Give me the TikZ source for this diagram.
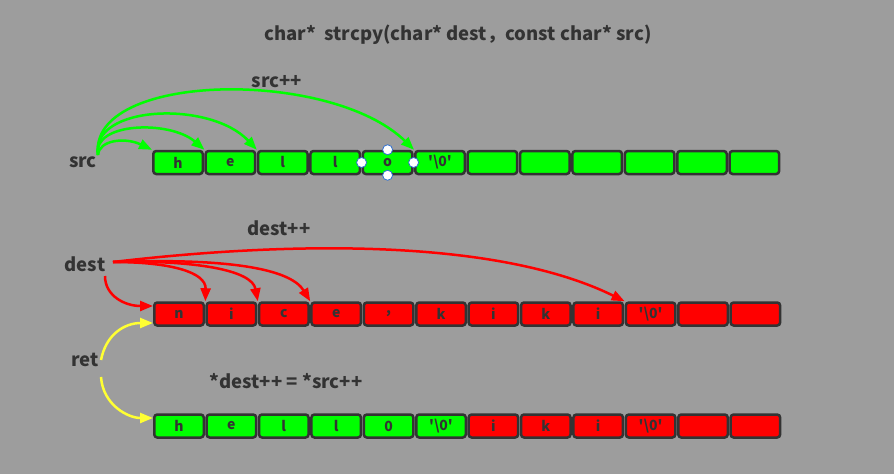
\documentclass[tikz,border=0pt]{standalone}
\usepackage{fontspec}
\setmainfont{Noto Sans CJK SC}[Ligatures=TeXOff]
\usetikzlibrary{arrows.meta}
\definecolor{bg}{HTML}{9D9D9D}
\definecolor{ink}{HTML}{333333}
\definecolor{gcell}{HTML}{00FF00}
\definecolor{rcell}{HTML}{FF0000}
\definecolor{yarrow}{HTML}{FFFF33}
\definecolor{handle}{HTML}{2F6FD0}
\newcommand{\nulch}{'\textbackslash0'}
\tikzset{
  cell/.style={rectangle, rounded corners=3pt, draw=ink, line width=2.5pt,
    minimum width=49.5pt, minimum height=23pt, inner sep=0pt, text=ink,
    font=\bfseries\fontsize{14}{14}\selectfont},
  gc/.style={cell, fill=gcell},
  rc/.style={cell, fill=rcell},
  lbl/.style={text=ink, inner sep=0pt, font=\bfseries\fontsize{18.5}{18.5}\selectfont},
  arr/.style={line width=2.5pt, -{Triangle[length=13pt,width=10pt]}},
  garr/.style={arr, draw=gcell},
  rarr/.style={arr, draw=rcell},
  yarr/.style={arr, draw=yarrow},
  hdl/.style={circle, fill=white, draw=handle, line width=0.8pt, minimum size=10pt, inner sep=0pt}
}
\begin{document}
\begin{tikzpicture}[x=1pt,y=-1pt]
\fill[bg] (0,0) rectangle (894,474);
\useasboundingbox (0,0) rectangle (894,474);

\node[lbl] (title) at (458,35) {char*\ \ strcpy(char* dest，const char* src)};

% top row
\foreach \i/\t in {1/h,2/e,3/l,4/l,5/o,6/\nulch,7/,8/,9/,10/,11/,12/}
  \node[gc] (t\i) at ({178+52.4*(\i-1)},162.5) {\t};
% middle row
\foreach \i/\t in {1/n,2/i,3/c,4/e,5/{,},6/k,7/i,8/k,9/i,10/\nulch,11/,12/}
  \node[rc] (m\i) at ({179+52.4*(\i-1)},314) {\t};
% bottom row
\foreach \i/\t in {1/h,2/e,3/l,4/l,5/0,6/\nulch}
  \node[gc] (b\i) at ({179+52.4*(\i-1)},426) {\t};
\foreach \i/\t in {7/i,8/k,9/i,10/\nulch,11/,12/}
  \node[rc] (b\i) at ({179+52.4*(\i-1)},426) {\t};

% labels
\node[lbl] (src) at (83,162) {src};
\node[lbl] (srcpp) at (277,82) {src++};
\node[lbl] (dest) at (85,264) {dest};
\node[lbl] (destpp) at (279,228) {dest++};
\node[lbl] (ret) at (85,360) {ret};
\node[lbl] (assign) at (286,381) {*dest++ = *src++};

% green arrows
\coordinate (s0) at (98,155);
\draw[garr] (s0) .. controls (99,140) and (125,137) .. (t1.north west);
\draw[garr] (s0) .. controls (92,122) and (170,120) .. (t2.north west);
\draw[garr] (s0) .. controls (90,105) and (210,100) .. (t3.north west);
\draw[garr] (s0) .. controls (88,72) and (330,68) .. (t6.north west);

% red arrows
\coordinate (d0) at (113,262);
\coordinate (d1) at (105,276);
\draw[rarr] (d0) .. controls (170,262) and (206,272) .. (m2.north west);
\draw[rarr] (d0) .. controls (195,260) and (252,270) .. (m3.north west);
\draw[rarr] (d0) .. controls (225,258) and (290,268) .. (m4.north west);
\draw[rarr] (d0) .. controls (300,240) and (500,240) .. (m10.north west);
\draw[rarr] (d1) .. controls (105,296) and (125,306) .. ([yshift=8pt]m1.west);

% yellow arrows
\coordinate (r0) at (101,360);
\coordinate (r1) at (101,377);
\draw[yarr] (r0) .. controls (106,334) and (125,323) .. ([yshift=-9pt]m1.west);
\draw[yarr] (r1) .. controls (103,405) and (128,418) .. ([yshift=8pt]b1.west);

% selection handles on 'o'
\node[hdl] (h1) at (t5.west) {};
\node[hdl] (h2) at (t5.east) {};
\node[hdl] (h3) at (t5.north) {};
\node[hdl] (h4) at (t5.south) {};
\end{tikzpicture}
\end{document}
